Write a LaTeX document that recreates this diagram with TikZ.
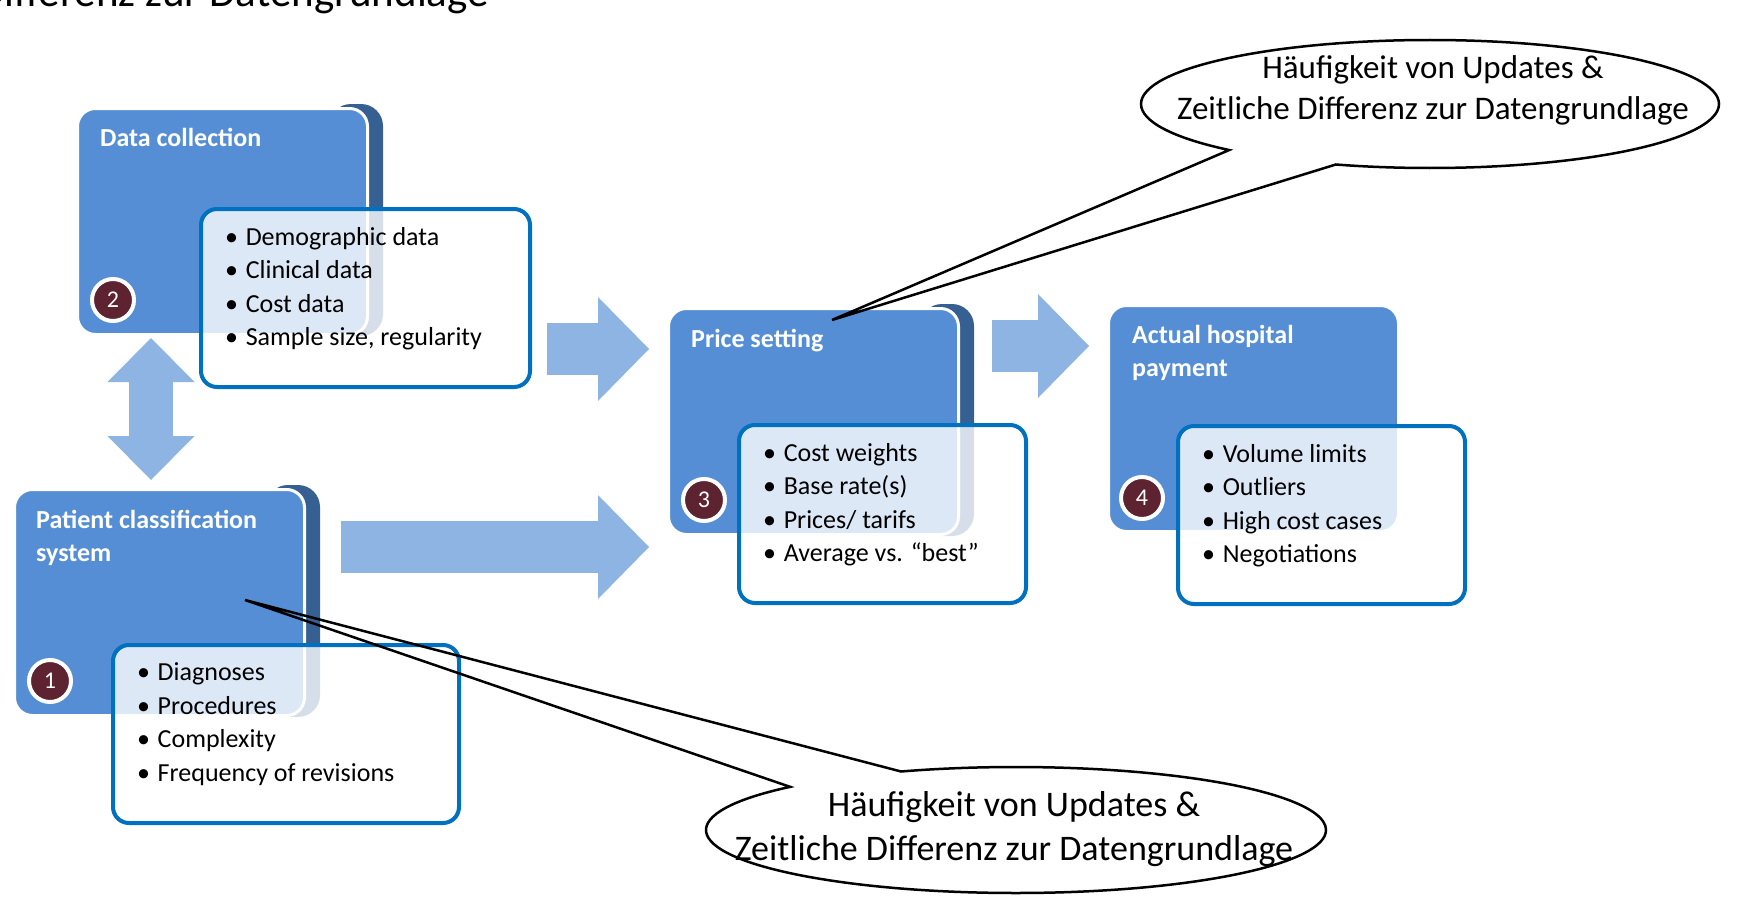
\documentclass[tikz,border=0pt]{standalone}
\usepackage{fontspec}
\setmainfont{Carlito}
\usetikzlibrary{arrows.meta, positioning, calc, shapes.callouts, backgrounds}
\definecolor{stageblue}{RGB}{85,142,213}
\definecolor{sheetblue}{RGB}{54,96,146}
\definecolor{frameblue}{RGB}{0,112,192}
\definecolor{flowblue}{RGB}{142,180,227}
\definecolor{badgered}{RGB}{94,35,48}
\newcommand{\factbullet}{\textbullet\hspace{0.3em}}
\newcommand{\factlist}[2]{\parbox[c][142pt][t]{#1}{\raggedright #2}}
\tikzset{
    stage/.style={
        rectangle,
        rounded corners=18pt,
        minimum width=290pt,
        minimum height=226pt,
        anchor=north west,
        fill=stageblue,
        draw=white,
        line width=3pt
    },
    backsheet/.style={
        fill=sheetblue,
        rounded corners=22pt
    },
    stagetitle/.style={
        font=\fontsize{26}{33}\selectfont\bfseries,
        text=white,
        align=left,
        inner sep=0pt
    },
    facts/.style={
        rectangle,
        rounded corners=16pt,
        anchor=north west,
        draw=frameblue,
        line width=4pt,
        fill=white,
        fill opacity=0.8,
        text opacity=1,
        inner xsep=24pt,
        inner ysep=18pt,
        font=\fontsize{26}{33.5}\selectfont
    },
    badge/.style={
        circle,
        fill=badgered,
        draw=white,
        line width=4pt,
        minimum size=42pt,
        inner sep=0pt,
        text=white,
        font=\fontsize{24}{24}\selectfont
    },
    flow/.style={
        line width=52pt,
        color=flowblue,
        -{Triangle[length=51pt, width=104pt, line width=0pt]}
    },
    flowboth/.style={
        line width=44pt,
        color=flowblue,
        {Triangle[length=44pt, width=87pt, line width=0pt]}-{Triangle[length=44pt, width=87pt, line width=0pt]}
    },
    bubble/.style={
        ellipse callout,
        draw=black,
        line width=2.5pt,
        inner sep=0pt,
        callout pointer arc=25
    },
    bubbletext/.style={
        align=center,
        inner sep=0pt,
        font=\fontsize{36}{44}\selectfont
    }
}

\begin{document}
\begin{tikzpicture}[x=1pt, y=-1pt]
    \useasboundingbox (0,0) rectangle (1751,899);

    % text cut by the upper edge
    \node[bubbletext, anchor=base east, font=\fontsize{43}{51}\selectfont] (cuttext) at (489,7) {Zeitliche Differenz zur Datengrundlage};

    % stage boxes
    \node[stage] (data) at (76,107) {};
    \node[stage] (patient) at (13,488) {};
    \node[stage] (price) at (667,307) {};
    \node[stage] (payment) at (1107,304) {};

    \begin{scope}[on background layer]
        \foreach \s in {data, patient, price}
            \fill[backsheet] ($(\s.north east)+(-40,-3)$) rectangle ($(\s.south east)+(14,0)$);
    \end{scope}

    % titles
    \node[stagetitle, below right=21pt and 24pt of data.north west] (datatitle) {Data collection};
    \node[stagetitle, below right=22pt and 23pt of patient.north west] (patienttitle) {Patient classification\\system};
    \node[stagetitle, below right=22pt and 24pt of price.north west] (pricetitle) {Price setting};
    \node[stagetitle, below right=21pt and 25pt of payment.north west] (paymenttitle) {Actual hospital\\payment};

    % numbers
    \node[badge] (n2) at ($(data.south west)+(37,-36)$) {2};
    \node[badge] (n1) at ($(patient.south west)+(37,-36)$) {1};
    \node[badge] (n3) at ($(price.south west)+(37,-36)$) {3};
    \node[badge] (n4) at ($(payment.south west)+(35,-35)$) {4};

    % fact boxes
    \node[facts] (datafacts) at (199,207) {\factlist{281pt}{\factbullet Demographic data\\\factbullet Clinical data\\\factbullet Cost data\\\factbullet Sample size, regularity}};
    \node[facts] (patientfacts) at (111,643) {\factlist{298pt}{\factbullet Diagnoses\\\factbullet Procedures\\\factbullet Complexity\\\factbullet Frequency of revisions}};
    \node[facts] (pricefacts) at (737,423) {\factlist{239pt}{\factbullet Cost weights\\\factbullet Base rate(s)\\\factbullet Prices/ tarifs\\\factbullet Average vs. “best”}};
    \node[facts] (paymentfacts) at (1176,424) {\factlist{239pt}{\factbullet Volume limits\\\factbullet Outliers\\\factbullet High cost cases\\\factbullet Negotiations}};

    % block arrows
    \draw[flowboth, shorten <=2pt, shorten >=8pt] (data.south -| 151,0) -- (patient.north -| 151,0);
    \draw[flow, shorten <=15pt, shorten >=18pt] (datafacts.east |- 0,349) -- (price.west |- 0,349);
    \draw[flow, shorten <=35pt, shorten >=18pt] (patient.east |- 0,547) -- (price.west |- 0,547);
    \draw[flow, shorten <=32pt, shorten >=18pt] (price.east |- 0,346) -- (payment.west |- 0,346);

    % callouts
    \coordinate (tipT) at (832,320);
    \coordinate (tipB) at (245,600);
    \node[bubble, minimum width=578pt, minimum height=128pt, callout absolute pointer={(tipT)}] (bubT) at (1430,104) {};
    \node[bubbletext, font=\fontsize{33}{41}\selectfont] (bubTtext) at (1433,90) {Häufigkeit von Updates \&\\Zeitliche Differenz zur Datengrundlage};
    \node[bubble, minimum width=620pt, minimum height=126pt, callout absolute pointer={(tipB)}] (bubB) at (1016,830) {};
    \node[bubbletext] (bubBtext) at (1014,829) {Häufigkeit von Updates \&\\Zeitliche Differenz zur Datengrundlage};
\end{tikzpicture}
\end{document}
